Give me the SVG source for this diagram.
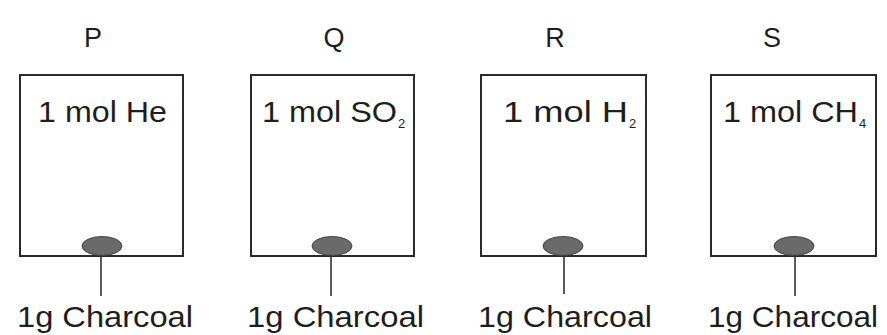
<svg xmlns="http://www.w3.org/2000/svg" width="887" height="335" viewBox="0 0 887 335">
<style>
.box{fill:none;stroke:#2a2a2a;stroke-width:2}
.coal{fill:#6a6a6a;stroke:#444;stroke-width:1}
.lead{stroke:#333;stroke-width:1.6}
text{font-family:"Liberation Sans",Arial,sans-serif;fill:#1e1e1e}
.lbl{font-size:27px;text-anchor:middle}
.gas{font-size:30px}
.sub{font-size:13px}
.cap{font-size:30px}
</style>
<rect width="887" height="335" fill="#ffffff"/>
<g id="nodeP">
<text class="lbl" x="93" y="47">P</text>
<rect class="box" x="20" y="75" width="163" height="181"/>
<text class="gas" x="38" y="122" textLength="129" lengthAdjust="spacingAndGlyphs">1 mol He</text>
<ellipse class="coal" cx="102" cy="246" rx="20" ry="9.5"/>
<text class="cap" x="17" y="327" textLength="176" lengthAdjust="spacingAndGlyphs">1g Charcoal</text>
</g>
<g id="nodeQ">
<text class="lbl" x="334" y="47">Q</text>
<rect class="box" x="251" y="75" width="163" height="181"/>
<text class="gas" x="262" y="122" textLength="135" lengthAdjust="spacingAndGlyphs">1 mol SO</text>
<text class="sub" x="398" y="128">2</text>
<ellipse class="coal" cx="332" cy="246" rx="20" ry="9.5"/>
<text class="cap" x="247" y="327" textLength="177" lengthAdjust="spacingAndGlyphs">1g Charcoal</text>
</g>
<g id="nodeR">
<text class="lbl" x="555" y="47">R</text>
<rect class="box" x="481" y="75" width="165" height="181"/>
<text class="gas" x="503" y="122" textLength="125" lengthAdjust="spacingAndGlyphs">1  mol H</text>
<text class="sub" x="629" y="128">2</text>
<ellipse class="coal" cx="563" cy="246" rx="20" ry="9.5"/>
<text class="cap" x="478" y="327" textLength="174" lengthAdjust="spacingAndGlyphs">1g Charcoal</text>
</g>
<g id="nodeS">
<text class="lbl" x="772" y="47">S</text>
<rect class="box" x="711" y="75" width="165" height="181"/>
<text class="gas" x="723" y="122" textLength="135" lengthAdjust="spacingAndGlyphs">1  mol CH</text>
<text class="sub" x="859" y="128">4</text>
<ellipse class="coal" cx="794" cy="246" rx="20" ry="9.5"/>
<text class="cap" x="708" y="327" textLength="170" lengthAdjust="spacingAndGlyphs">1g Charcoal</text>
</g>
<g id="connectors">
<line class="lead" x1="101" y1="255" x2="101" y2="296"/>
<line class="lead" x1="331" y1="255" x2="331" y2="296"/>
<line class="lead" x1="564" y1="255" x2="564" y2="294"/>
<line class="lead" x1="795" y1="255" x2="795" y2="296"/>
</g>
</svg>
